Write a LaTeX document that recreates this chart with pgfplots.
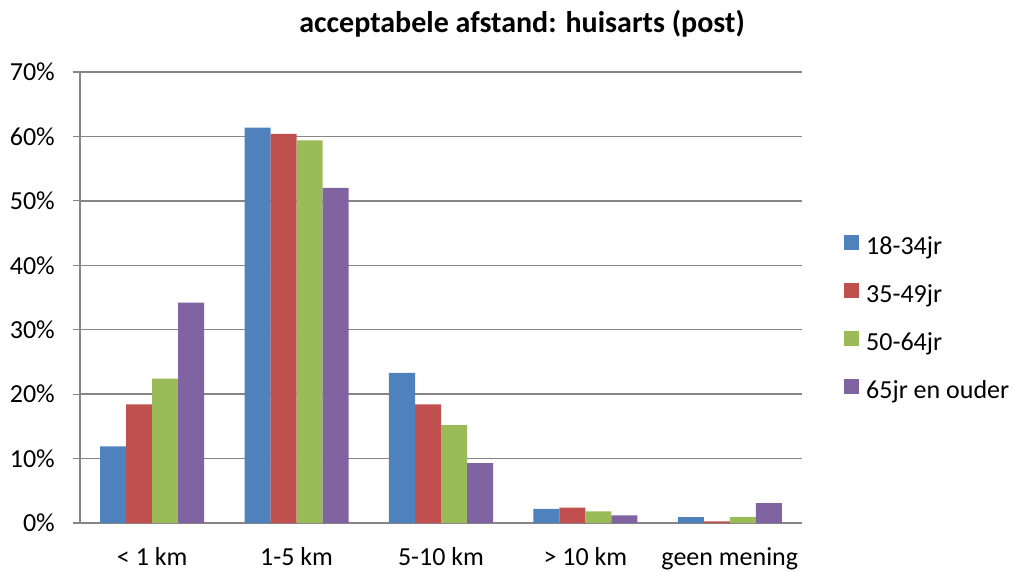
\documentclass[border=0pt]{standalone}
\usepackage{pgfplots}
\pgfplotsset{compat=1.18}
\usepackage{fontspec}
\setmainfont{Carlito}
\definecolor{cblue}{HTML}{4F81BD}
\definecolor{cred}{HTML}{C0504D}
\definecolor{cgreen}{HTML}{9BBB59}
\definecolor{cpurple}{HTML}{8064A2}
\definecolor{gridgray}{HTML}{868686}
\begin{document}
\begin{tikzpicture}
\useasboundingbox (-80pt,-48pt) rectangle (934pt,523pt);
\begin{axis}[
  at={(0pt,0pt)}, anchor=south west,
  scale only axis,
  width=722pt, height=451pt,
  ybar=0pt, bar width=26pt,
  xmin=-0.5, xmax=4.5,
  ymin=0, ymax=70,
  xtick={0,1,2,3,4},
  xticklabels={{< 1 km},{1-5 km},{5-10 km},{> 10 km},{geen mening}},
  x tick style={draw=none},
  extra x ticks={-0.5,0.5,1.5,2.5,3.5,4.5},
  extra x tick labels={},
  extra x tick style={tick style={draw=gridgray, line width=1.2pt}, major tick length=7pt, tick align=outside, tickpos=left, grid=none},
  ytick={0,10,...,70},
  yticklabel={\pgfmathprintnumber{\tick}\%},
  /pgf/number format/assume math mode=true,
  ymajorgrids,
  grid style={draw=gridgray, line width=1.3pt},
  y tick style={draw=gridgray, line width=1.2pt},
  major tick length=7pt,
  tick align=outside,
  ytick pos=left,
  axis line style={draw=gridgray, line width=1.3pt},
  axis x line*=bottom,
  axis y line*=left,
  separate axis lines,
  tick label style={font=\fontsize{26}{30}\selectfont, text=black},
  yticklabel style={anchor=east, inner sep=0pt, xshift=-18pt},
  xticklabel style={anchor=base, inner sep=0pt, yshift=-35pt},
  legend style={draw=none, fill=none, inner sep=0pt, at={(764pt,288pt)}, anchor=north west,
     nodes={font=\fontsize{26}{30}\selectfont, inner sep=0pt, text height=18pt, text depth=6pt},
     row sep=22.3pt, column sep=7pt, legend cell align=left},
  legend image code/.code={\fill[#1] (0pt,-1.5pt) rectangle (15pt,13.5pt);},
  clip=false,
]
\addplot[fill=cblue, draw=none] coordinates {(0,11.9) (1,61.35) (2,23.3) (3,2.2) (4,0.9)};
\addplot[fill=cred, draw=none] coordinates {(0,18.4) (1,60.4) (2,18.4) (3,2.4) (4,0.25)};
\addplot[fill=cgreen, draw=none] coordinates {(0,22.4) (1,59.4) (2,15.2) (3,1.8) (4,0.9)};
\addplot[fill=cpurple, draw=none] coordinates {(0,34.2) (1,52.0) (2,9.3) (3,1.2) (4,3.1)};
\legend{18-34jr,35-49jr,50-64jr,65jr en ouder}
\end{axis}
\node[font=\fontsize{30}{34}\selectfont\bfseries, anchor=base] at (442pt,490pt) {acceptabele afstand: huisarts (post)};
\end{tikzpicture}
\end{document}
